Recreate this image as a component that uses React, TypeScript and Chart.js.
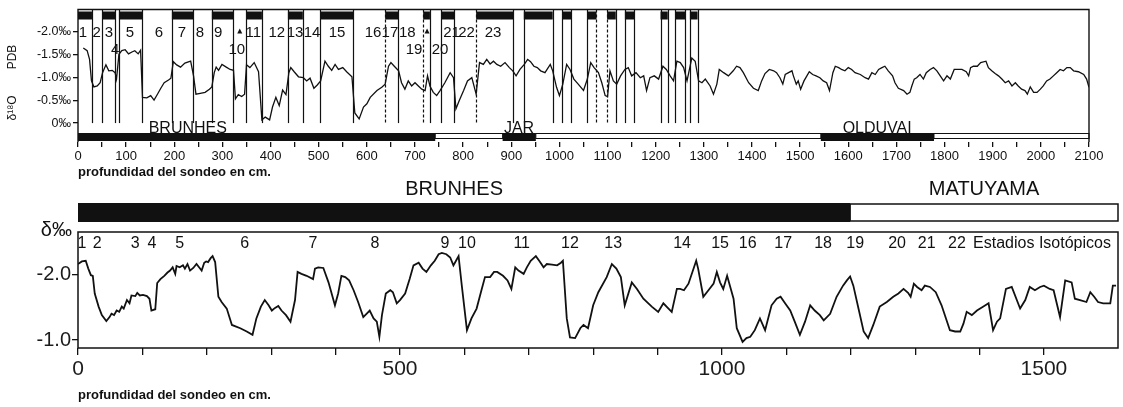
import React, { useEffect, useRef } from "react";
import { Chart, registerables } from "chart.js";

Chart.register(...registerables);

const FONT = '"Liberation Sans", Arial, Helvetica, sans-serif';
const INK = "#111111";

// ---------- upper core (0 - 2100 cm) ----------
const topDepth = [
  11, 19, 24, 28, 33, 40, 46, 51, 58, 64, 71, 77, 80, 85, 91, 98, 105, 112, 118, 125, 130,
  134, 143, 151, 158, 165, 172, 179, 188, 193, 198, 205, 213, 222, 234, 240, 245, 254, 264,
  273, 278, 283, 287, 292, 299, 308, 316, 323, 327, 333, 340, 346, 350, 357, 366, 375, 382,
  389, 398, 404, 411, 418, 425, 432, 438, 442, 449, 458, 468, 475, 482, 490, 497, 504, 513,
  520, 527, 534, 541, 550, 558, 569, 575, 584, 593, 600, 607, 621, 631, 638, 645, 650, 657,
  666, 672, 679, 686, 693, 700, 707, 714, 721, 726, 731, 738, 745, 752, 762, 773, 780, 785,
  792, 801, 809, 818, 827, 834, 842, 849, 856, 863, 870, 878, 887, 896, 903, 910, 918, 927,
  934, 940, 947, 954, 961, 970, 981, 986, 994, 1000, 1007, 1015, 1022, 1030, 1039, 1050,
  1058, 1065, 1072, 1081, 1088, 1095, 1100, 1105, 1112, 1119, 1127, 1136, 1143, 1150, 1159,
  1168, 1175, 1181, 1188, 1197, 1206, 1215, 1222, 1230, 1237, 1244, 1251, 1258, 1265, 1275,
  1282, 1289, 1296, 1303, 1313, 1320, 1327, 1332, 1341, 1351, 1361, 1368, 1375, 1382, 1393,
  1403, 1413, 1420, 1427, 1436, 1445, 1451, 1458, 1464, 1469, 1476, 1483, 1486, 1492, 1496,
  1501, 1508, 1514, 1519, 1526, 1533, 1541, 1548, 1555, 1561, 1568, 1573, 1580, 1586, 1593,
  1600, 1607, 1614, 1625, 1635, 1642, 1649, 1656, 1663, 1670, 1676, 1683, 1692, 1697, 1704,
  1715, 1722, 1728, 1732, 1737, 1742, 1749, 1756, 1762, 1770, 1777, 1784, 1791, 1798, 1805,
  1812, 1820, 1829, 1836, 1845, 1850, 1854, 1860, 1868, 1875, 1886, 1891, 1898, 1905, 1912,
  1919, 1926, 1933, 1940, 1947, 1953, 1960, 1967, 1972, 1978, 1985, 1992, 1999, 2005, 2012,
  2019, 2026, 2033, 2040, 2047, 2054, 2061, 2068, 2078, 2089, 2095, 2100,
];
const topD18O = [
  -1.64, -1.58, -1.39, -0.92, -0.79, -0.81, -0.88, -1.10, -1.27, -1.14, -1.15, -1.10, -0.96,
  -1.50, -1.58, -1.60, -1.51, -1.55, -1.58, -1.51, -1.59,
  -0.56, -0.55, -0.60, -0.50, -0.63, -0.76, -0.88, -0.94, -0.98, -1.34, -1.27, -1.22, -1.31,
  -1.35, -1.03, -0.63, -0.65, -0.67,
  -0.74, -0.79, -1.10, -1.22, -1.15, -1.28, -1.22, -1.17, -1.15, -0.53, -0.62, -0.58, -0.63,
  -1.27, -1.21, -1.32, -1.12, -0.07,
  -0.13, -0.07, -0.35, -0.56, -0.38, -0.72, -0.62, -1.10, -1.21, -1.12, -1.01, -0.99, -0.92,
  -0.98, -0.76, -0.83, -0.92, -1.35,
  -1.24, -1.15, -1.28, -1.17, -1.21, -1.12, -1.01, -0.22, -0.09, -0.35, -0.42, -0.56, -0.71,
  -0.78, -0.85, -1.24, -1.32, -1.24,
  -1.14, -0.88, -0.74, -0.92, -0.81, -0.88, -0.81, -0.74, -0.71, -1.03, -0.81, -0.67, -0.60,
  -0.71, -0.88, -1.10, -0.99, -0.31,
  -0.49, -0.71, -0.92, -0.99, -0.63, -1.32, -1.28, -1.39, -1.29, -1.35, -1.28, -1.24, -1.32,
  -1.21, -1.14, -1.03, -1.17, -1.28,
  -1.39, -1.34, -1.24, -1.21, -1.14, -1.10, -1.28, -1.14, -0.78, -0.60, -0.85, -1.28, -1.17,
  -0.96, -0.85, -0.71,
  -0.96, -1.32, -1.21, -1.10, -0.88, -0.60, -0.58, -1.14, -0.92, -0.85, -1.03, -1.17, -1.21,
  -1.03, -1.10,
  -0.99, -1.03, -0.71, -0.99, -1.03, -0.96, -1.24, -1.17, -1.03, -0.92, -1.35, -1.32, -1.21,
  -0.92, -1.42,
  -1.35, -0.92, -0.88, -0.96, -0.81, -0.63, -0.85, -1.17, -1.10, -1.03, -1.14, -1.24, -1.21,
  -1.10, -0.88,
  -0.76, -0.71, -0.92, -1.08, -1.17, -1.14, -1.10, -0.99, -0.85, -1.06, -1.10, -1.14, -1.03,
  -0.85, -0.92,
  -0.74, -0.92, -1.03, -1.12, -1.06, -1.03, -0.99, -0.92, -0.88, -0.71, -1.10, -1.24, -1.21,
  -1.17, -1.14,
  -1.21, -1.17, -1.10, -1.06, -0.99, -0.96, -1.10, -1.06, -1.17, -1.21, -1.24, -1.14, -1.03,
  -0.88, -0.76,
  -0.71, -0.63, -0.67, -0.81, -0.96, -0.99, -1.06, -0.96, -1.10, -1.17, -1.21, -1.14, -1.03,
  -0.92, -1.03,
  -0.96, -1.17, -1.17, -1.17, -1.12, -1.03, -1.21, -1.24, -1.24, -1.32, -1.35, -1.21, -1.14,
  -1.08, -1.03,
  -0.96, -0.88, -0.92, -0.81, -0.88, -0.81, -0.74, -0.71, -0.63, -0.79, -0.67, -0.67, -0.74,
  -0.81, -0.92,
  -0.96, -1.03, -1.10, -1.17, -1.14, -1.21, -1.21, -1.14, -1.12, -1.06, -0.96, -0.78,
];
// isotope stage boundaries (stage n spans bounds[n-1]..bounds[n])
const topStageBounds = [
  0, 29, 50, 77, 85, 133, 195, 239, 278, 322, 349, 382, 436, 467, 503, 572, 638, 665, 717,
  731, 754, 782, 827, 904, 926, 986, 1006, 1025, 1058, 1077, 1099, 1117, 1136, 1155, 1210,
  1225, 1241, 1261, 1271, 1287,
];
const topDashedBounds = [638, 717, 827, 1077, 1099];
const topStageLabels = [
  "1", "2", "3", "4", "5", "6", "7", "8", "9", "10", "11", "12", "13", "14", "15", "16",
  "17", "18", "19", "20", "21", "22", "23",
];
const topStageLabelDepth = [
  10, 39, 64, 77, 108, 168, 216, 253, 291, 330, 364, 413, 451, 486, 538, 613, 648, 684, 698,
  752, 776, 807, 862,
];
const topLowStageLabels = ["4", "10", "19", "20"];
const topMarkerDepth = [336, 725];
const topPolStart = [0, 742, 882, 951, 1543, 1778];
const topPolEnd = [742, 882, 951, 1543, 1778, 2100];
const topPolNormal = [true, false, true, false, true, false];
const topPolNames = ["BRUNHES", "JAR", "OLDUVAI"];
const topPolNameDepth = [228, 916, 1660];
const topYTicks = [-2, -1.5, -1, -0.5, 0];

// ---------- lower core (0 - 1600 cm) ----------
const botDepth = [
  0, 6, 12, 16, 20, 23, 26, 32, 37, 44, 49, 52, 56, 60, 64, 68, 71, 76, 80, 83, 89, 92, 96,
  101, 107, 111, 114, 120, 123, 128, 134, 139, 143, 147, 151, 153, 158, 163, 166, 170, 174,
  179, 184, 188, 192, 196, 199, 202, 206, 209, 213, 218, 223, 231, 239, 252, 262, 271, 277,
  284, 290, 296, 301, 306, 311, 316, 323, 330, 337, 341, 347, 355, 365, 368, 373, 381, 389,
  399, 404, 409, 415, 421, 428, 435, 443, 448, 453, 459, 464, 468,
  472, 478, 485, 489, 495, 500, 508, 515, 521, 529, 535, 541, 548, 554, 560, 565, 572, 578,
  583, 587, 591, 596, 604, 611, 619, 627, 632, 640, 646, 651, 660, 667, 673, 679, 684, 692,
  697, 703, 711, 717, 723, 728, 736, 744, 750, 753, 759, 764, 772, 780, 785, 792, 800, 808,
  821, 829, 836, 843, 849, 860, 868, 878, 891, 901, 909, 917, 922, 930, 935, 941, 948, 960,
  963, 971, 979, 987, 992, 997, 1002, 1008, 1018, 1023, 1032, 1038, 1044,
  1051, 1059, 1067, 1077, 1085, 1091, 1098, 1106, 1113, 1121, 1129, 1137, 1144, 1152, 1158,
  1168, 1178, 1188, 1194, 1199, 1204, 1212, 1220, 1227, 1235, 1245, 1256, 1266, 1274, 1282,
  1289, 1293, 1298, 1303, 1310, 1315, 1323, 1332, 1341, 1354, 1362, 1370, 1375, 1380, 1388,
  1396, 1406, 1414, 1421, 1427, 1432, 1441, 1450, 1463, 1471, 1478, 1486, 1494, 1500, 1509,
  1515, 1525, 1533, 1543, 1548, 1556, 1566, 1572, 1578, 1584, 1592, 1603, 1607, 1612,
];
const botD18O = [
  -2.16, -2.20, -2.21, -2.09, -1.99, -1.98, -1.71, -1.51, -1.38, -1.29, -1.35, -1.40, -1.38,
  -1.45, -1.43, -1.51, -1.48, -1.61, -1.56, -1.68, -1.67, -1.72, -1.68,
  -1.69, -1.67, -1.63, -1.45, -1.47, -1.87, -1.93, -1.98, -2.03, -2.06, -2.11, -2.01, -2.13,
  -2.11, -2.14, -2.09, -2.16, -2.06,
  -2.10, -2.16, -2.11, -2.06, -2.18, -2.20, -2.19, -2.25, -2.28, -2.19, -1.66, -1.58, -1.48,
  -1.23, -1.18, -1.13, -1.08, -1.33,
  -1.51, -1.61, -1.53, -1.45, -1.49, -1.52, -1.45, -1.38, -1.28, -1.61, -2.04, -2.01, -1.98,
  -1.93, -2.09, -2.11, -2.10, -1.88,
  -1.53, -1.71, -1.98, -1.96, -1.91, -1.76, -1.58, -1.35, -1.40, -1.45, -1.33, -1.28, -1.05,
  -1.38, -1.71, -1.76, -1.73, -1.56, -1.61, -1.71, -1.93, -2.14, -2.18, -2.09, -2.04, -2.14,
  -2.21, -2.31, -2.33, -2.31, -2.26,
  -2.14, -2.21, -2.28, -1.83, -1.15, -1.33, -1.48, -1.78, -1.96, -1.96, -2.04, -2.04, -1.98,
  -1.91, -1.78, -2.11, -2.06, -2.01,
  -2.11, -2.21, -2.28, -2.20, -2.11, -2.16, -2.15, -2.14, -2.18, -2.21, -1.33, -1.04, -1.03,
  -1.18, -1.23, -1.18, -1.53, -1.73,
  -1.96, -2.16, -2.09, -1.96, -1.53, -1.88, -1.78, -1.63, -1.51, -1.43, -1.56, -1.48, -1.43,
  -1.78, -1.78, -1.76, -1.86, -2.21,
  -2.09, -1.66, -1.76, -1.86, -2.04, -1.88, -1.78, -1.98, -1.63, -1.18, -0.97, -1.03, -1.05,
  -1.15, -1.33, -1.15, -1.53, -1.63, -1.66, -1.56, -1.45, -1.28, -1.08, -1.28, -1.53, -1.45,
  -1.38, -1.30,
  -1.40, -1.66, -1.83, -1.91, -1.97, -1.83, -1.48, -1.13, -1.03, -1.23, -1.51, -1.58, -1.66,
  -1.71, -1.78,
  -1.72, -1.66, -1.86, -1.81, -1.76, -1.83, -1.81, -1.73, -1.53, -1.15, -1.13, -1.13, -1.25,
  -1.43, -1.38,
  -1.45, -1.51, -1.56, -1.15, -1.28, -1.33, -1.78, -1.81, -1.48, -1.61, -1.81, -1.76, -1.81,
  -1.83, -1.78,
  -1.76, -1.35, -1.91, -1.88, -1.63, -1.61, -1.58, -1.73, -1.66, -1.58, -1.56, -1.56, -1.83,
  -1.83,
];
const botStageLabels = [
  "1", "2", "3", "4", "5", "6", "7", "8", "9", "10", "11", "12", "13", "14", "15", "16",
  "17", "18", "19", "20", "21", "22",
];
const botStageDepth = [
  6, 30, 89, 115, 158, 259, 365, 461, 570, 604, 689, 764, 831, 938, 997, 1040, 1095, 1157,
  1207, 1272, 1318, 1365,
];
const botStageCaption = "Estadios Isotópicos";
const botStageCaptionDepth = 1390;
const botPolStart = [0, 1199];
const botPolEnd = [1199, 1615];
const botPolNormal = [true, false];
const botPolNames = ["BRUNHES", "MATUYAMA"];
const botPolNameDepth = [584, 1407];
const botYTicks = [-2, -1];
const botXLabels = [0, 500, 1000, 1500];
const xTitle = "profundidad del sondeo en cm.";

const font = (size: number, weight = "normal") => `${weight} ${size}px ${FONT}`;

const topDecor = {
  id: "topDecor",
  beforeDatasetsDraw(chart: any) {
    const { ctx, chartArea: a, scales } = chart;
    const x = scales.x;
    const y = scales.y;
    ctx.save();
    ctx.fillStyle = INK;
    ctx.strokeStyle = INK;
    // stage band: odd stages black
    for (let i = 1; i < topStageBounds.length; i++) {
      if (i % 2 === 1) {
        const x0 = x.getPixelForValue(topStageBounds[i - 1]);
        const x1 = x.getPixelForValue(topStageBounds[i]);
        ctx.fillRect(x0, a.top + 2, x1 - x0, 8);
      }
    }
    // stage boundaries
    const yZero = y.getPixelForValue(0);
    ctx.lineWidth = 1.2;
    for (let i = 1; i < topStageBounds.length; i++) {
      const d = topStageBounds[i];
      const px = Math.round(x.getPixelForValue(d)) + 0.5;
      ctx.setLineDash(topDashedBounds.includes(d) ? [3, 2] : []);
      ctx.beginPath();
      ctx.moveTo(px, a.top);
      ctx.lineTo(px, yZero);
      ctx.stroke();
    }
    ctx.setLineDash([]);
    // polarity bar
    const barH = 9;
    for (let i = 0; i < topPolStart.length; i++) {
      const x0 = x.getPixelForValue(topPolStart[i]);
      const x1 = x.getPixelForValue(topPolEnd[i]);
      if (topPolNormal[i]) {
        ctx.fillRect(x0, a.bottom - barH, x1 - x0, barH - 1);
      } else {
        ctx.lineWidth = 1;
        ctx.strokeRect(x0, a.bottom - barH + 0.5, x1 - x0, barH - 4);
      }
    }
    ctx.font = font(16);
    ctx.textAlign = "center";
    ctx.textBaseline = "alphabetic";
    topPolNames.forEach((n, i) => {
      ctx.fillText(n, x.getPixelForValue(topPolNameDepth[i]), a.bottom - barH - 0.5);
    });
    ctx.restore();
  },
  afterDraw(chart: any) {
    const { ctx, chartArea: a, scales } = chart;
    const x = scales.x;
    ctx.save();
    ctx.strokeStyle = INK;
    ctx.fillStyle = INK;
    ctx.lineWidth = 1.4;
    ctx.beginPath();
    ctx.moveTo(a.left, a.bottom);
    ctx.lineTo(a.left, a.top);
    ctx.lineTo(a.right, a.top);
    ctx.lineTo(a.right, a.bottom);
    ctx.stroke();
    // stage numbers
    ctx.font = font(15);
    ctx.textAlign = "center";
    ctx.textBaseline = "middle";
    topStageLabels.forEach((lab, i) => {
      const low = topLowStageLabels.includes(lab);
      ctx.fillText(lab, x.getPixelForValue(topStageLabelDepth[i]), a.top + (low ? 40 : 23));
    });
    // small arrow markers
    topMarkerDepth.forEach((d) => {
      const px = x.getPixelForValue(d);
      const py = a.top + 22;
      ctx.beginPath();
      ctx.moveTo(px, py - 3);
      ctx.lineTo(px - 2.5, py + 2);
      ctx.lineTo(px + 2.5, py + 2);
      ctx.closePath();
      ctx.fill();
    });
    // rotated axis title
    ctx.font = font(12);
    ctx.translate(13, 0);
    ctx.rotate(-Math.PI / 2);
    ctx.fillText("δ¹⁸O", -108, 0);
    ctx.fillText("PDB", -57, 0);
    ctx.restore();
  },
};

const botDecor = {
  id: "botDecor",
  afterDraw(chart: any) {
    const { ctx, chartArea: a, scales } = chart;
    const x = scales.x;
    ctx.save();
    ctx.strokeStyle = INK;
    ctx.fillStyle = INK;
    ctx.lineWidth = 1.5;
    ctx.strokeRect(a.left, a.top, a.right - a.left, a.bottom - a.top);
    // polarity bar
    const barTop = a.top - 29;
    const barH = 19;
    for (let i = 0; i < botPolStart.length; i++) {
      const x0 = x.getPixelForValue(botPolStart[i]);
      const x1 = x.getPixelForValue(botPolEnd[i]);
      if (botPolNormal[i]) ctx.fillRect(x0, barTop, x1 - x0, barH);
      else ctx.strokeRect(x0, barTop + 1, x1 - x0, barH - 2);
    }
    ctx.font = font(20);
    ctx.textAlign = "center";
    ctx.textBaseline = "alphabetic";
    botPolNames.forEach((n, i) => {
      ctx.fillText(n, x.getPixelForValue(botPolNameDepth[i]), a.top - 37);
    });
    // stage numbers
    ctx.font = font(16);
    ctx.textBaseline = "middle";
    botStageLabels.forEach((lab, i) => {
      ctx.fillText(lab, x.getPixelForValue(botStageDepth[i]), a.top + 12);
    });
    ctx.textAlign = "left";
    ctx.fillText(botStageCaption, x.getPixelForValue(botStageCaptionDepth), a.top + 12);
    // delta label
    ctx.font = font(20);
    ctx.textAlign = "right";
    ctx.textBaseline = "alphabetic";
    ctx.fillText("δ‰", a.left - 6, a.top + 4);
    ctx.restore();
  },
};

const gridOpts = (len: number) => ({
  display: true,
  drawOnChartArea: false,
  drawTicks: true,
  tickLength: len,
  color: INK,
  lineWidth: 1.3,
});

function topConfig(): any {
  return {
    type: "line",
    data: {
      datasets: [
        {
          data: topDepth.map((d, i) => ({ x: d, y: topD18O[i] })),
          borderColor: INK,
          borderWidth: 1.3,
          pointRadius: 0,
          tension: 0,
          fill: false,
        },
      ],
    },
    options: {
      animation: false,
      responsive: false,
      devicePixelRatio: 1,
      layout: { padding: { left: 0, right: 34, top: 9, bottom: 0 } },
      plugins: { legend: { display: false }, tooltip: { enabled: false } },
      scales: {
        x: {
          type: "linear",
          min: 0,
          max: 2100,
          afterBuildTicks: (s: any) => {
            s.ticks = s.ticks.filter((t: any) => t.value % 50 === 0);
          },
          afterFit: (s: any) => {
            s.height = 40;
          },
          ticks: {
            stepSize: 50,
            autoSkip: false,
            maxRotation: 0,
            minRotation: 0,
            padding: 2,
            color: INK,
            font: { family: FONT, size: 13 },
            callback: (v: any) => (v % 100 === 0 ? String(v) : ""),
          },
          grid: gridOpts(5),
          border: { display: false },
          title: {
            display: true,
            text: xTitle,
            align: "start",
            color: INK,
            font: { family: FONT, size: 13, weight: "bold" },
            padding: { top: 0, bottom: 2 },
          },
        },
        y: {
          type: "linear",
          reverse: true,
          min: -2.478,
          max: 0.413,
          afterBuildTicks: (s: any) => {
            s.ticks = topYTicks.map((value) => ({ value }));
          },
          afterFit: (s: any) => {
            s.width = 78;
          },
          ticks: {
            padding: 2,
            color: INK,
            font: { family: FONT, size: 12.5 },
            callback: (v: any) => (v === 0 ? "0‰" : Number(v).toFixed(1) + "‰"),
          },
          grid: gridOpts(5),
          border: { display: false },
        },
      },
    },
    plugins: [topDecor],
  };
}

function botConfig(): any {
  return {
    type: "line",
    data: {
      datasets: [
        {
          data: botDepth.map((d, i) => ({ x: d, y: botD18O[i] })),
          borderColor: INK,
          borderWidth: 1.8,
          pointRadius: 0,
          tension: 0,
          fill: false,
        },
      ],
    },
    options: {
      animation: false,
      responsive: false,
      devicePixelRatio: 1,
      layout: { padding: { left: 0, right: 5, top: 56, bottom: 0 } },
      plugins: { legend: { display: false }, tooltip: { enabled: false } },
      scales: {
        x: {
          type: "linear",
          min: 0,
          max: 1615,
          afterBuildTicks: (s: any) => {
            s.ticks = s.ticks.filter((t: any) => t.value % 100 === 0);
          },
          afterFit: (s: any) => {
            s.height = 59;
          },
          ticks: {
            stepSize: 100,
            autoSkip: false,
            maxRotation: 0,
            minRotation: 0,
            padding: 2,
            color: "#1c1c1c",
            font: { family: FONT, size: 21 },
            callback: (v: any) => (botXLabels.includes(Number(v)) ? String(v) : ""),
          },
          grid: gridOpts(7),
          border: { display: false },
          title: {
            display: true,
            text: xTitle,
            align: "start",
            color: INK,
            font: { family: FONT, size: 13, weight: "bold" },
            padding: { top: 0, bottom: 4 },
          },
        },
        y: {
          type: "linear",
          reverse: true,
          min: -2.649,
          max: -0.878,
          afterBuildTicks: (s: any) => {
            s.ticks = botYTicks.map((value) => ({ value }));
          },
          afterFit: (s: any) => {
            s.width = 78;
          },
          ticks: {
            padding: 1,
            color: "#1c1c1c",
            font: { family: FONT, size: 20 },
            callback: (v: any) => Number(v).toFixed(1),
          },
          grid: gridOpts(6),
          border: { display: false },
        },
      },
    },
    plugins: [botDecor],
  };
}

export default function App() {
  const topRef = useRef<HTMLCanvasElement>(null);
  const botRef = useRef<HTMLCanvasElement>(null);
  useEffect(() => {
    const c1 = new Chart(topRef.current as HTMLCanvasElement, topConfig());
    const c2 = new Chart(botRef.current as HTMLCanvasElement, botConfig());
    return () => {
      c1.destroy();
      c2.destroy();
    };
  }, []);
  return (
    <div
      style={{
        position: "absolute",
        left: 0,
        top: 0,
        width: 1123,
        height: 407,
        background: "#ffffff",
        overflow: "hidden",
      }}
    >
      <canvas
        ref={topRef}
        width={1123}
        height={182}
        style={{ position: "absolute", left: 0, top: 0 }}
      />
      <canvas
        ref={botRef}
        width={1123}
        height={231}
        style={{ position: "absolute", left: 0, top: 176 }}
      />
    </div>
  );
}
